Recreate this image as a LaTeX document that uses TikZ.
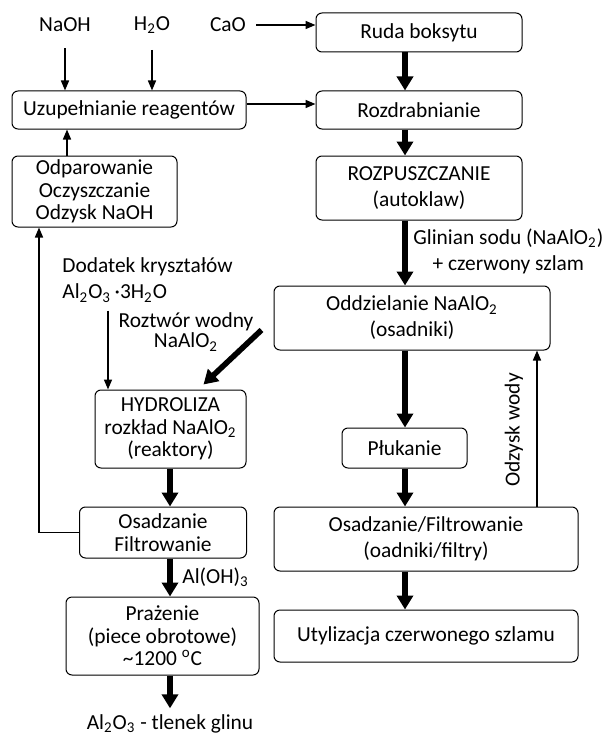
\documentclass[tikz,border=0pt]{standalone}
\usepackage{fontspec}
\setmainfont{Carlito}
\usetikzlibrary{arrows.meta}
\newcommand{\ix}[1]{\textsubscript{#1}}

\begin{document}
\begin{tikzpicture}[x=0.5pt, y=-0.5pt,
  every node/.style={font=\fontsize{10.7}{11.2}\selectfont, align=center, inner sep=1pt},
  wide/.style={font=\fontsize{10.7}{13}\selectfont},
  box/.style={draw, rounded corners=3pt, line width=0.5pt, fill=white},
  feed/.style={line width=0.8pt, -{Triangle[length=5pt,width=4pt]}},
  flow/.style={line width=2.8pt, -{Triangle[length=7pt,width=8pt]}}]
\useasboundingbox (0,0) rectangle (611,738);
% spines for the vertical arrows
\coordinate (lsp) at (170,0);
\coordinate (rsp) at (405,0);
\coordinate (up) at (67,0);
\coordinate (ret) at (39,0);
\coordinate (rec) at (537,0);
\coordinate (drop) at (108,0);
% main line (right)
\node[box, minimum width=103pt, minimum height=19.5pt] (ruda) at (419,32.5) {Ruda boksytu};
\node[box, minimum width=103pt, minimum height=19pt] (rozdr) at (419,110) {Rozdrabnianie};
\node[box, wide, minimum width=103pt, minimum height=32pt] (rozp) at (419,188) {ROZPUSZCZANIE\\(autoklaw)};
\node[box, wide, minimum width=138pt, minimum height=32pt] (oddz) at (412,318) {Oddzielanie NaAlO\ix{2}\\(osadniki)};
\node[box, minimum width=62.5pt, minimum height=20pt] (pluk) at (404.5,448) {Płukanie};
\node[box, wide, minimum width=152pt, minimum height=32pt] (osfil) at (426,539) {Osadzanie/Filtrowanie\\(oadniki/filtry)};
\node[box, minimum width=152pt, minimum height=26pt] (utyl) at (426,636) {Utylizacja czerwonego szlamu};
% reagents and recovery (left)
\node[box, minimum width=117pt, minimum height=19pt] (uzup) at (129,110) {Uzupełnianie reagentów};
\node[box, minimum width=82.5pt, minimum height=35.5pt] (odpar) at (94.5,191.5) {Odparowanie\\Oczyszczanie\\Odzysk NaOH};
\node[box, minimum width=75.5pt, minimum height=39pt] (hydro) at (170.5,429) {HYDROLIZA\\rozkład NaAlO\ix{2}\\(reaktory)};
\node[box, minimum width=83.5pt, minimum height=25.5pt] (osadz) at (163,532.5) {Osadzanie\\Filtrowanie};
\node[box, minimum width=96.5pt, minimum height=39pt] (praz) at (162.5,636) {Prażenie\\(piece obrotowe)\\\textasciitilde 1200 \textsuperscript{o}C};
% free labels
\node (naoh) at (65,25) {NaOH};
\node (h2o) at (152,25) {H\ix{2}O};
\node (cao) at (228,25) {CaO};
\node[wide, anchor=west] (glinian) at (411,251) {Glinian sodu (NaAlO\ix{2})\\+ czerwony szlam};
\node[wide, anchor=west, align=left] (dodatek) at (60,280) {Dodatek kryształów\\Al\ix{2}O\ix{3}\,·3H\ix{2}O};
\node[font=\fontsize{10.7}{10.2}\selectfont] (roztwor) at (186,332) {Roztwór wodny\\NaAlO\ix{2}};
\node[anchor=west] (aloh) at (180,577) {Al(OH)\ix{3}};
\node (tlenek) at (170,724) {Al\ix{2}O\ix{3} - tlenek glinu};
\node[rotate=90] (odzysk) at (514,430) {Odzysk wody};
% thin arrows
\draw[feed, shorten <=4pt] (cao.east) -- (cao.east -| ruda.west);
\draw[feed, shorten <=7pt] (naoh) -- (naoh |- uzup.north);
\draw[feed, shorten <=7pt] (h2o) -- (h2o |- uzup.north);
\draw[feed] ([yshift=3pt]uzup.east) -- ([yshift=3pt]rozdr.west);
\draw[feed] (odpar.north -| up) -- (uzup.south -| up);
\draw[feed] (osadz.west) -| (odpar.south -| ret);
\draw[feed] (osfil.north -| rec) -- (oddz.south -| rec);
\draw[feed, shorten <=3pt] (dodatek.south -| drop) -- (hydro.north -| drop);
% thick arrows
\draw[flow] (ruda.south -| rsp) -- (rozdr.north -| rsp);
\draw[flow] (rozdr.south -| rsp) -- (rozp.north -| rsp);
\draw[flow] (rozp.south -| rsp) -- (oddz.north -| rsp);
\draw[flow] (oddz.south -| rsp) -- (pluk.north -| rsp);
\draw[flow] (pluk.south -| rsp) -- (osfil.north -| rsp);
\draw[flow] (osfil.south -| rsp) -- (utyl.north -| rsp);
\draw[flow] ([shift={(-12,12)}]oddz.west) -- ([shift={(33,-5)}]hydro.north);
\draw[flow] (hydro.south -| lsp) -- (osadz.north -| lsp);
\draw[flow] (osadz.south -| lsp) -- (praz.north -| lsp);
\draw[flow, shorten >=2pt] (praz.south -| lsp) -- (tlenek.north -| lsp);
\end{tikzpicture}
\end{document}
